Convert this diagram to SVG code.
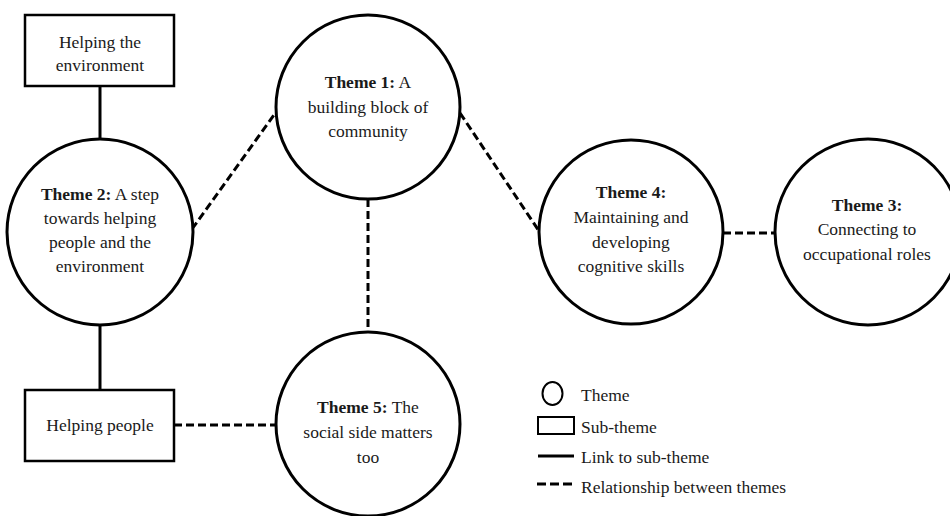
<svg xmlns="http://www.w3.org/2000/svg" width="950" height="516" viewBox="0 0 950 516">
<style>
text{font-family:"Liberation Serif","Times New Roman",serif;font-size:17.5px;fill:#1a1a1a;text-anchor:middle}
.b{font-weight:bold}
.th{fill:#fff;stroke:#000;stroke-width:3}
.sub{fill:#fff;stroke:#000;stroke-width:2.5}
.solid{stroke:#000;stroke-width:3;fill:none}
.dash{stroke:#000;stroke-width:3;fill:none;stroke-dasharray:8 4}
.lg{text-anchor:start}
</style>
<rect width="950" height="516" fill="#fff"/>
<g id="connectors">
<line class="solid" x1="100" y1="86" x2="100" y2="139"/>
<line class="solid" x1="100" y1="325" x2="100" y2="390"/>
<line class="dash" x1="192" y1="229" x2="276" y2="112"/>
<line class="dash" x1="460" y1="113" x2="539" y2="231"/>
<line class="dash" x1="723" y1="233" x2="775" y2="233"/>
<line class="dash" x1="368" y1="199" x2="368" y2="332"/>
<line class="dash" x1="174" y1="425" x2="276" y2="425"/>
</g>
<g id="sub-environment">
<rect class="sub" x="25" y="15" width="149" height="71"/>
<text x="100" y="48">Helping the</text>
<text x="100" y="71">environment</text>
</g>
<g id="sub-people">
<rect class="sub" x="25" y="390" width="149" height="71"/>
<text x="100" y="431">Helping people</text>
</g>
<g id="theme2">
<circle class="th" cx="100" cy="232" r="93"/>
<text x="100" y="200"><tspan class="b">Theme 2:</tspan> A step</text>
<text x="100" y="224">towards helping</text>
<text x="100" y="248">people and the</text>
<text x="100" y="272">environment</text>
</g>
<g id="theme1">
<circle class="th" cx="368" cy="107" r="92"/>
<text x="368" y="88"><tspan class="b">Theme 1:</tspan> A</text>
<text x="368" y="113">building block of</text>
<text x="368" y="137">community</text>
</g>
<g id="theme4">
<circle class="th" cx="631" cy="232" r="92"/>
<text x="631" y="198" class="b">Theme 4:</text>
<text x="631" y="223">Maintaining and</text>
<text x="631" y="248">developing</text>
<text x="631" y="272">cognitive skills</text>
</g>
<g id="theme3">
<circle class="th" cx="868" cy="232" r="93"/>
<text x="867" y="211" class="b">Theme 3:</text>
<text x="867" y="235">Connecting to</text>
<text x="867" y="260">occupational roles</text>
</g>
<g id="theme5">
<circle class="th" cx="368" cy="424" r="92"/>
<text x="368" y="413"><tspan class="b">Theme 5:</tspan> The</text>
<text x="368" y="438">social side matters</text>
<text x="368" y="463">too</text>
</g>
<g id="legend">
<ellipse cx="552.5" cy="393.5" rx="10" ry="11.5" fill="#fff" stroke="#000" stroke-width="2"/>
<rect x="538" y="417" width="36" height="17" fill="#fff" stroke="#000" stroke-width="2"/>
<line x1="538" y1="456" x2="574" y2="456" stroke="#000" stroke-width="3"/>
<line x1="537" y1="484" x2="574" y2="484" stroke="#000" stroke-width="3" stroke-dasharray="9 4"/>
<text class="lg" x="581" y="401">Theme</text>
<text class="lg" x="581" y="433">Sub-theme</text>
<text class="lg" x="581" y="463">Link to sub-theme</text>
<text class="lg" x="581" y="493">Relationship between themes</text>
</g>
</svg>
